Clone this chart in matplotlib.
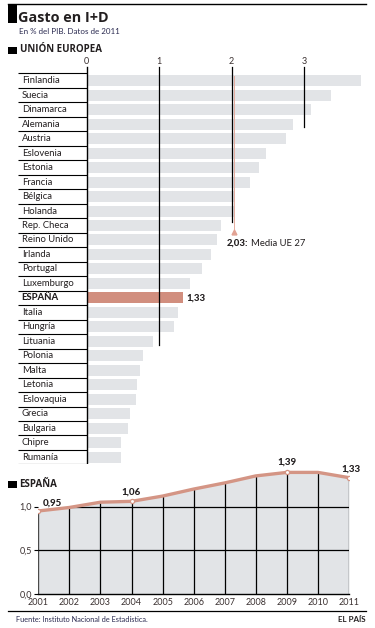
import matplotlib.pyplot as plt
from matplotlib.lines import Line2D
from matplotlib.patches import Rectangle

# --- Data ---
paises = ["Finlandia", "Suecia", "Dinamarca", "Alemania", "Austria", "Eslovenia",
          "Estonia", "Francia", "Bélgica", "Holanda", "Rep. Checa", "Reino Unido",
          "Irlanda", "Portugal", "Luxemburgo", "ESPAÑA", "Italia", "Hungría",
          "Lituania", "Polonia", "Malta", "Letonia", "Eslovaquia", "Grecia",
          "Bulgaria", "Chipre", "Rumanía"]
gasto_ue = [3.78, 3.37, 3.09, 2.84, 2.75, 2.47, 2.38, 2.25, 2.04, 2.04, 1.85, 1.80,
            1.72, 1.59, 1.43, 1.33, 1.26, 1.21, 0.92, 0.77, 0.73, 0.70, 0.68, 0.60,
            0.57, 0.47, 0.47]
media_ue = 2.03

anios = [2001, 2002, 2003, 2004, 2005, 2006, 2007, 2008, 2009, 2010, 2011]
gasto_es = [0.95, 0.99, 1.05, 1.06, 1.12, 1.20, 1.27, 1.35, 1.39, 1.39, 1.33]
anios_marca = [2001, 2004, 2009, 2011]

C_BAR = "#e2e4e7"
C_ES = "#d18e7e"
C_LINE = "#d49585"
C_TXT = "#231f20"
FONT = ["Lato", "DejaVu Sans"]
HEAD = ["Open Sans", "DejaVu Sans"]

plt.rcParams.update({"font.family": FONT, "font.size": 7})

W, H = 375, 628
fig = plt.figure(figsize=(W / 100, H / 100), dpi=100)


def fx(x):
    return x / W


def fy(y):
    return 1 - y / H


def fline(x0, x1, y0, y1, **kw):
    fig.add_artist(Line2D([fx(x0), fx(x1)], [fy(y0), fy(y1)], transform=fig.transFigure, **kw))


def frect(x0, y0, w, h, color):
    fig.add_artist(Rectangle((fx(x0), fy(y0 + h)), w / W, h / H, transform=fig.transFigure,
                             color=color, lw=0))


# --- Header ---
fline(7.5, 366, 4.3, 4.3, color="black", lw=1)
frect(7.5, 4.3, 9.5, 18.7, "black")
fig.text(fx(18.5), fy(17.6), "Gasto en I+D", fontsize=10.4, fontweight="bold",
         family=HEAD, color=C_TXT, va="center", ha="left")
fig.text(fx(19), fy(32), "En % del PIB. Datos de 2011", fontsize=5.8,
         color="#2a2a50", va="center", ha="left")
frect(7.5, 46.5, 9.8, 7.2, "black")
fig.text(fx(19.5), fy(50), "UNIÓN EUROPEA", fontsize=7, fontweight="bold",
         family=HEAD, color=C_TXT, va="center", ha="left")

# --- Bar chart ---
x0_px, unit = 86.7, 72.5
row0, pitch = 80.7, 14.48
left_px, right_px = 18, 366
top_idx, bot_idx = -1.6, 26.5
ax = fig.add_axes([fx(left_px), fy(row0 + bot_idx * pitch),
                   (right_px - left_px) / W, (bot_idx - top_idx) * pitch / H])
ax.set_xlim(-(x0_px - left_px) / unit, (right_px - x0_px) / unit)
ax.set_ylim(bot_idx, top_idx)
ax.axis("off")

ypos = list(range(len(paises)))
colors = [C_ES if p == "ESPAÑA" else C_BAR for p in paises]
ax.barh(ypos, gasto_ue, height=0.76, color=colors, zorder=1)

xmin = ax.get_xlim()[0]
for i in range(-1, len(paises)):
    ax.plot([xmin, 0], [i + 0.5, i + 0.5], color="black", lw=0.8, zorder=3,
            solid_capstyle="butt")
for i, p in enumerate(paises):
    ax.text(xmin + 0.05, i, p, va="center", ha="left", fontsize=6.8, color=C_TXT,
            fontweight="black" if p == "ESPAÑA" else "normal")

# vertical reference lines: down to the last bar that crosses them
ax.plot([0, 0], [-0.95, bot_idx], color="black", lw=1, zorder=3)
for v, end in [(1, 18.25), (2, 9.74), (3, 3.18)]:
    ax.plot([v, v], [-0.95, end], color="black", lw=0.9, zorder=3)
for v in [0, 1, 2, 3]:
    ax.text(v, -1.35, str(v), ha="center", va="center", fontsize=6.5, color="#3a3030")

ax.plot([media_ue, media_ue], [-0.35, 10.4], color="#e6ad9f", lw=0.7, zorder=2)
ax.plot([media_ue], [10.45], marker="^", ms=3.5, color="#e2a394", zorder=4)
t_media = ax.text(media_ue - 0.1, 11.22, "2,03:", ha="left", va="center", fontsize=6.8,
                  fontweight="black", color=C_TXT)
ax.annotate("Media UE 27", xy=(1, 0.5), xycoords=t_media, xytext=(2, 0),
            textcoords="offset points", ha="left", va="center", fontsize=6.8,
            color=C_TXT)
i_es = paises.index("ESPAÑA")
ax.text(gasto_ue[i_es] + 0.05, i_es, "1,33", ha="left", va="center", fontsize=6.8,
        fontweight="black", color=C_TXT)

# --- España line chart ---
frect(7.5, 480.8, 9.8, 7.2, "black")
fig.text(fx(19.5), fy(484.5), "ESPAÑA", fontsize=7, fontweight="bold",
         family=HEAD, color=C_TXT, va="center", ha="left")

y0_px, yunit = 594.3, 87.7
ax2 = fig.add_axes([fx(38.3), fy(y0_px), (349 - 38.3) / W, 1.5 * yunit / H])
ax2.set_xlim(2001, 2011)
ax2.set_ylim(0, 1.5)
for s in ["top", "right", "left"]:
    ax2.spines[s].set_visible(False)
ax2.spines["bottom"].set_linewidth(1)
ax2.patch.set_alpha(0)

fill = ax2.fill_between(anios, gasto_es, 0, color=C_BAR, lw=0, zorder=1)
clip = fill.get_paths()[0]
grid = []
for a in anios:
    grid.append(ax2.plot([a, a], [0, 1.6], color="black", lw=0.9, zorder=2)[0])
for yv in [0.5, 1.0]:
    grid.append(ax2.plot([2001, 2011], [yv, yv], color="black", lw=0.9, zorder=2)[0])
for g in grid:
    g.set_clip_path(clip, ax2.transData)

ax2.plot(anios, gasto_es, color=C_LINE, lw=2.4, zorder=3, solid_capstyle="round")
mk = [anios.index(a) for a in anios_marca]
ax2.plot([anios[i] for i in mk], [gasto_es[i] for i in mk], ls="none", marker="o",
         ms=3, mfc="white", mec=C_LINE, mew=0.9, zorder=4)

ax2.text(2001.15, 1.04, "0,95", ha="left", va="center", fontsize=7, fontweight="black",
         color=C_TXT)
ax2.text(2004, 1.165, "1,06", ha="center", va="center", fontsize=7, fontweight="black",
         color=C_TXT)
ax2.text(2009, 1.51, "1,39", ha="center", va="center", fontsize=7, fontweight="black",
         color=C_TXT, clip_on=False)
ax2.text(2011.05, 1.43, "1,33", ha="center", va="center", fontsize=7, fontweight="black",
         color=C_TXT, clip_on=False)

ax2.set_xticks(anios)
ax2.set_xticklabels([str(a) for a in anios], fontsize=6.5, color="#3a3030")
ax2.set_yticks([0, 0.5, 1.0])
ax2.set_yticklabels(["0,0", "0,5", "1,0"], fontsize=6.5, color="#3a3030")
ax2.tick_params(axis="x", length=0, pad=2.5)
ax2.tick_params(axis="y", length=3, width=0.8, pad=1.5)
for lbl in ax2.get_yticklabels():
    lbl.set_verticalalignment("center_baseline")

# --- Footer ---
fline(7.5, 366, 610.7, 610.7, color="black", lw=0.9)
fig.text(fx(16), fy(619.5), "Fuente: Instituto Nacional de Estadística.", fontsize=5.3,
         color="#2a2a50", va="center", ha="left")
fig.text(fx(366), fy(619.5), "EL PAÍS", fontsize=5.8, fontweight="bold",
         color=C_TXT, va="center", ha="right")

fig.savefig("out.png", dpi=100)
